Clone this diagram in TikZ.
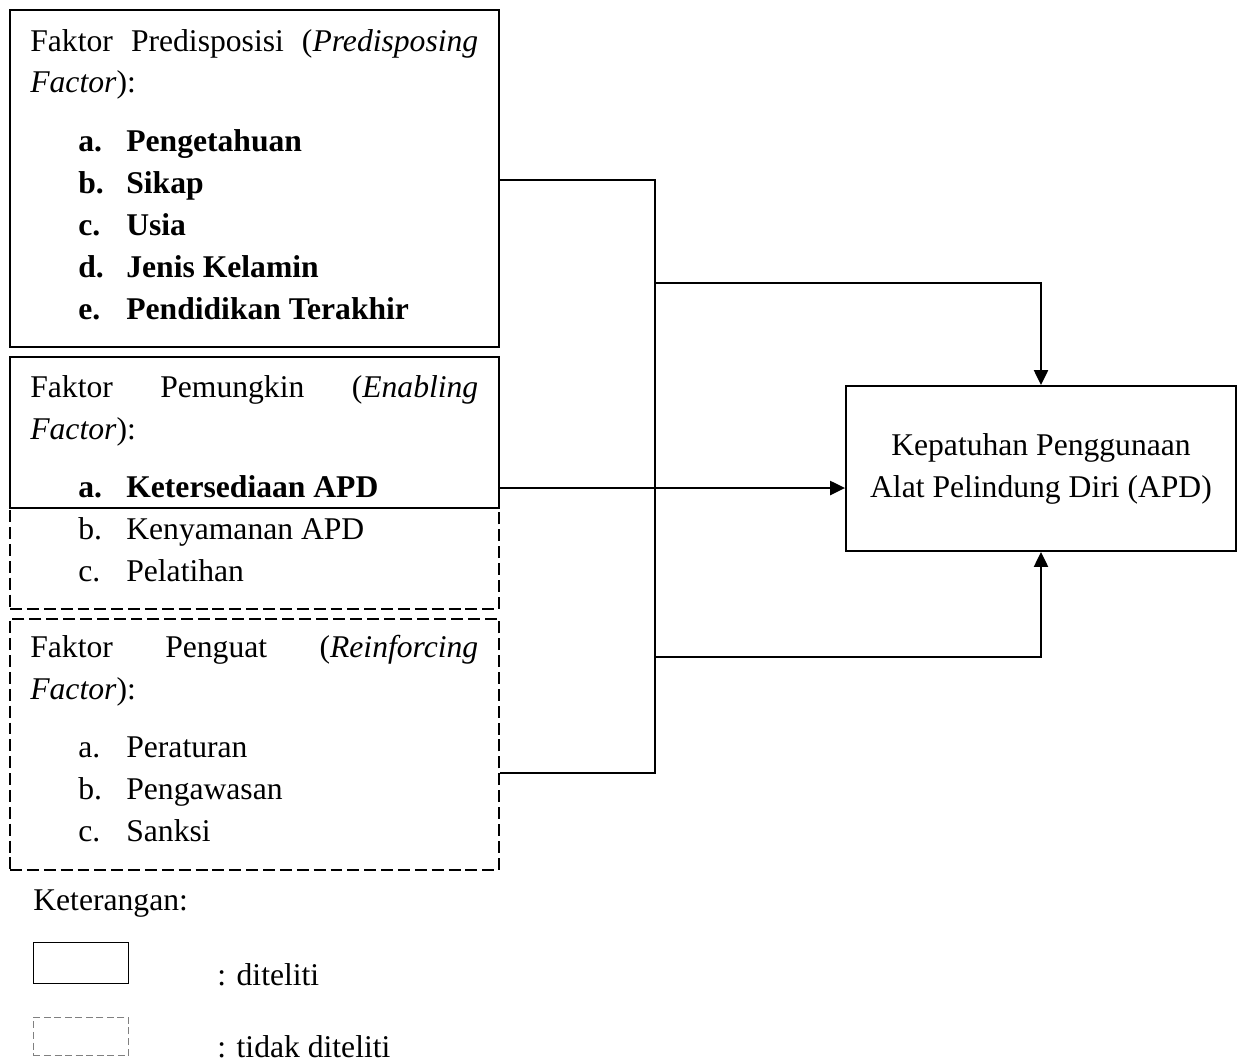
\documentclass[tikz,border=0pt]{standalone}
\usepackage{fontspec}
\setmainfont{Liberation Serif}
\usepackage{array}
\usetikzlibrary{arrows.meta,positioning}

\tikzset{
  kotak/.style={draw, line width=1.1pt, minimum width=9.78cm, inner sep=0pt},
  putus/.style={kotak, dash pattern=on 6.8pt off 2.8pt},
  isi/.style={anchor=base west, inner sep=0pt},
  garis/.style={line width=1.1pt},
  panah/.style={garis, -{Triangle[length=8.5pt,width=8pt]}},
}
\newcommand{\judul}[1]{\multicolumn{2}{@{}l@{}}{#1}}

\begin{document}
\begin{tikzpicture}[x=0.02cm,y=-0.02cm,font=\fontsize{18}{23.9}\selectfont]
  \useasboundingbox (0,0) rectangle (1249,1063);

  % kotak faktor
  \node[kotak, minimum height=6.74cm] (pre) at (254.5,178.5) {};
  \node[putus, minimum height=5.04cm, below=0.16cm of pre] (pem) {};
  \node[kotak, minimum height=3.02cm, anchor=north] (pemsolid) at (pem.north) {};
  \node[putus, minimum height=5.02cm, below=0.16cm of pem] (pen) {};
  \node[kotak, minimum width=7.8cm, minimum height=3.3cm, align=center]
    (apd) at (1041,468.5) {Kepatuhan Penggunaan\\Alat Pelindung Diri (APD)};

  % isi kotak
  \node[isi] (preisi) at (30,51) {%
    \begin{tabular}[t]{@{\hspace{0.96cm}}p{0.96cm}@{}l@{}}
      \judul{\makebox[8.96cm][s]{Faktor Predisposisi (\textit{Predisposing}}}\\
      \judul{\textit{Factor}):}\\[0.34cm]
      \textbf{a.} & \textbf{Pengetahuan}\\
      \textbf{b.} & \textbf{Sikap}\\
      \textbf{c.} & \textbf{Usia}\\
      \textbf{d.} & \textbf{Jenis Kelamin}\\
      \textbf{e.} & \textbf{Pendidikan Terakhir}
    \end{tabular}};
  \node[isi] (pemisi) at (30,397) {%
    \begin{tabular}[t]{@{\hspace{0.96cm}}p{0.96cm}@{}l@{}}
      \judul{\makebox[8.96cm][s]{Faktor Pemungkin (\textit{Enabling}}}\\
      \judul{\textit{Factor}):}\\[0.34cm]
      \textbf{a.} & \textbf{Ketersediaan APD}\\
      b. & Kenyamanan APD\\
      c. & Pelatihan
    \end{tabular}};
  \node[isi] (penisi) at (30,657) {%
    \begin{tabular}[t]{@{\hspace{0.96cm}}p{0.96cm}@{}l@{}}
      \judul{\makebox[8.96cm][s]{Faktor Penguat (\textit{Reinforcing}}}\\
      \judul{\textit{Factor}):}\\[0.34cm]
      a. & Peraturan\\
      b. & Pengawasan\\
      c. & Sanksi
    \end{tabular}};

  % garis penghubung
  \coordinate (j1) at (655,180);
  \coordinate (j2) at (655,283);
  \coordinate (j3) at (655,657);
  \coordinate (j4) at (655,773);
  \draw[garis] (pre.east |- j1) -- (j1) -- (j4) -- (pen.east |- j4);
  \draw[panah] (j2) -| (apd.north);
  \draw[panah] (j3) -| (apd.south);
  \draw[panah] (pemsolid.east |- 0,488) -- (apd.west |- 0,488);

  % keterangan
  \node[isi] (ket) at (33,910) {Keterangan:};
  \node[draw, line width=0.8pt, minimum width=1.9cm, minimum height=0.82cm,
    anchor=north west] (lgsolid) at (33,942) {};
  \node[draw, gray, line width=0.5pt, dash pattern=on 4pt off 2pt,
    minimum width=1.9cm, minimum height=0.76cm, anchor=north west] (lgputus) at (33,1017) {};
  \node[isi] (lgdit) at (217,985) {: diteliti};
  \node[isi] (lgtdk) at (217,1057) {: tidak diteliti};
\end{tikzpicture}
\end{document}
